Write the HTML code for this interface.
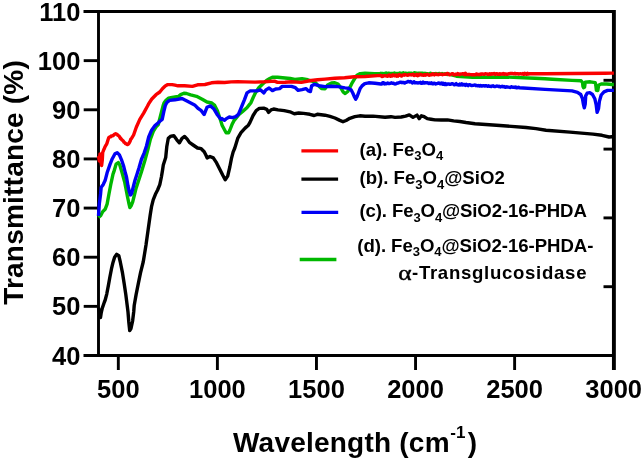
<!DOCTYPE html>
<html><head><meta charset="utf-8"><style>
html,body{margin:0;padding:0;background:#fff;width:644px;height:460px;overflow:hidden;position:relative}
</style></head><body>
<svg width="644" height="460" viewBox="0 0 644 460" style="position:absolute;left:0;top:0;will-change:transform">
<g stroke="#000" stroke-width="2.9" fill="none" stroke-linecap="butt">
<path d="M83.7,11.5 H613.7 M98.5,10.05 V355.5 M83.7,355.5 H613.7"/>
<path d="M613.9,10.05 V370" stroke-width="3.9"/>
<path d="M83.7,11.50 H98.5"/>
<path d="M83.7,60.64 H98.5"/>
<path d="M83.7,109.79 H98.5"/>
<path d="M83.7,158.93 H98.5"/>
<path d="M83.7,208.07 H98.5"/>
<path d="M83.7,257.21 H98.5"/>
<path d="M83.7,306.36 H98.5"/>
<path d="M83.7,355.50 H98.5"/>
<path d="M118.32,355.5 V370"/>
<path d="M217.39,355.5 V370"/>
<path d="M316.47,355.5 V370"/>
<path d="M415.55,355.5 V370"/>
<path d="M514.62,355.5 V370"/>
<path d="M603.5,80.30 H613.7"/>
<path d="M603.5,149.10 H613.7"/>
<path d="M603.5,217.90 H613.7"/>
<path d="M603.5,286.70 H613.7"/>
</g>
<path d="M98.5,217.5 L100.6,215.8 L102.5,211.9 L105.1,209.3 L107.1,204.1 L109.0,193.7 L111.0,183.3 L113.0,174.1 L113.9,171.7 L116.1,164.1 L118.3,162.5 L119.9,165.2 L122.1,172.8 L124.8,182.6 L126.2,190.0 L127.6,197.3 L128.8,203.0 L129.9,207.5 L131.3,205.5 L132.7,201.8 L134.4,195.0 L136.1,188.2 L138.3,181.5 L141.4,172.0 L144.8,160.7 L148.2,148.2 L150.4,139.2 L153.3,131.3 L156.1,126.8 L158.3,124.5 L161.5,112.0 L163.3,105.0 L164.0,103.0 L165.8,100.5 L168.4,98.2 L172.2,97.5 L176.5,96.8 L178.0,96.9 L180.7,94.6 L183.9,93.2 L186.5,93.5 L190.7,94.9 L196.5,96.3 L202.2,99.2 L207.0,102.0 L211.8,103.0 L214.7,105.4 L217.5,111.1 L220.4,119.8 L222.2,125.5 L226.1,132.7 L228.6,132.7 L229.9,130.0 L231.9,124.8 L233.8,120.9 L236.4,117.6 L239.0,114.4 L243.0,111.1 L246.9,107.8 L250.0,103.9 L250.9,102.7 L253.3,97.2 L255.6,92.5 L258.8,87.8 L261.9,84.7 L266.5,80.5 L269.8,78.5 L272.4,77.2 L277.6,77.2 L285.0,78.0 L290.2,78.5 L294.8,79.5 L302.0,78.8 L307.8,79.8 L314.4,81.8 L317.6,85.0 L321.5,88.6 L325.0,88.9 L327.6,85.0 L331.5,83.0 L334.8,82.7 L338.0,84.0 L340.7,87.6 L343.3,92.2 L345.2,93.5 L347.8,91.5 L349.8,87.6 L351.7,83.7 L354.4,79.1 L357.0,75.2 L360.2,73.6 L365.0,73.3 L374.6,73.6 L380.0,73.6 L380.9,73.3 L381.8,73.6 L382.7,73.4 L383.6,73.6 L384.5,73.7 L385.4,73.1 L386.3,73.0 L387.2,73.8 L388.1,73.2 L389.0,73.2 L389.9,73.9 L390.8,73.4 L391.7,73.8 L392.6,73.4 L393.5,73.5 L394.4,73.0 L395.3,73.5 L396.2,73.7 L397.1,73.4 L398.0,73.6 L398.9,73.5 L399.8,72.9 L400.7,73.5 L401.6,73.4 L402.5,73.1 L403.4,72.8 L404.3,73.6 L405.2,73.2 L406.1,73.4 L406.1,73.2 L407.0,73.6 L407.9,73.4 L408.8,73.6 L409.7,73.1 L410.6,73.5 L411.5,73.2 L412.4,73.7 L413.3,73.6 L414.2,72.8 L415.1,72.9 L416.0,73.0 L416.9,73.7 L417.8,73.2 L418.7,73.4 L419.6,73.1 L420.5,73.3 L421.4,73.2 L422.3,73.1 L423.2,73.4 L424.1,73.4 L425.0,73.7 L425.0,73.3 L425.9,73.5 L426.8,73.8 L427.7,73.8 L428.6,73.9 L429.5,73.7 L430.4,73.2 L431.3,73.9 L432.2,74.1 L433.1,74.0 L434.0,73.7 L434.9,73.9 L435.8,73.5 L436.7,74.1 L437.6,73.9 L438.5,73.6 L439.4,73.4 L440.3,74.3 L441.2,74.4 L442.1,73.6 L443.0,74.3 L443.9,74.0 L444.8,73.8 L445.7,73.9 L446.6,74.4 L447.5,74.6 L448.4,73.8 L449.3,74.4 L449.6,74.3 L456.5,76.2 L472.4,77.2 L505.0,77.0 L535.0,78.3 L545.0,78.8 L552.4,79.3 L572.0,80.4 L581.1,80.8 L582.5,82.5 L583.0,86.5 L583.6,87.7 L584.6,87.0 L585.2,82.2 L590.3,81.8 L595.3,82.7 L595.9,86.0 L596.4,90.4 L597.8,90.6 L598.5,86.0 L598.9,85.0 L601.2,84.0 L606.7,84.0 L612.0,84.5 L613.9,84.5" fill="none" stroke="#00b800" stroke-width="3.4" stroke-linejoin="round" stroke-linecap="butt"/>
<path d="M98.5,215.8 L99.3,204.1 L100.6,193.7 L101.2,187.2 L103.2,184.6 L105.1,180.6 L107.1,172.8 L110.1,164.1 L112.3,158.7 L115.0,153.8 L117.2,152.7 L119.4,154.9 L121.5,159.8 L123.7,166.3 L125.3,172.8 L126.5,177.0 L128.0,186.0 L129.3,191.6 L130.4,195.0 L131.3,194.0 L132.1,191.6 L133.5,186.0 L135.0,180.3 L136.9,174.5 L139.1,167.5 L141.4,159.5 L144.2,152.8 L146.5,146.0 L148.7,137.0 L151.6,130.2 L155.0,125.6 L158.3,122.8 L160.6,120.6 L162.2,119.4 L163.8,111.6 L165.3,105.5 L167.0,102.3 L169.6,100.4 L175.0,99.8 L182.0,98.5 L185.0,100.1 L189.8,102.5 L194.6,104.9 L198.4,108.7 L201.3,110.7 L204.1,114.5 L207.0,107.3 L210.4,105.9 L213.7,108.7 L217.5,115.0 L220.9,119.3 L222.0,118.6 L224.5,120.3 L226.0,118.9 L229.3,117.0 L232.5,117.6 L235.8,116.6 L238.4,114.4 L240.4,109.7 L242.3,105.0 L244.5,99.6 L247.0,92.9 L250.2,90.9 L254.1,90.9 L257.2,90.9 L260.3,89.8 L263.9,92.9 L265.9,89.9 L269.1,88.0 L272.4,90.6 L275.7,89.0 L279.6,88.6 L282.2,86.4 L285.0,86.4 L291.5,86.4 L295.4,87.7 L298.0,90.3 L302.0,89.6 L305.9,88.6 L308.5,90.9 L310.4,91.6 L311.7,85.7 L314.4,84.4 L318.9,85.7 L325.0,86.6 L331.5,86.3 L338.0,86.6 L345.0,87.9 L348.4,88.2 L351.2,89.9 L352.9,93.3 L354.6,97.2 L355.7,99.2 L357.1,96.6 L358.6,92.7 L360.3,88.2 L362.0,85.9 L364.8,83.6 L368.7,82.8 L375.0,83.2 L380.9,84.0 L381.8,84.1 L382.7,82.6 L383.6,82.7 L384.5,83.9 L385.0,83.4 L385.9,83.8 L386.8,83.6 L387.7,83.0 L388.6,83.5 L389.5,83.5 L390.4,83.4 L391.3,82.8 L392.2,83.2 L393.1,83.1 L394.0,83.6 L394.9,84.0 L395.8,83.9 L396.7,83.3 L397.4,83.2 L398.3,83.0 L399.2,82.7 L400.1,82.2 L401.0,82.1 L401.9,82.7 L402.8,82.4 L403.7,82.4 L404.6,83.1 L405.5,82.4 L406.4,82.4 L407.3,81.8 L408.2,81.4 L409.1,81.8 L409.6,82.0 L410.5,81.5 L411.4,82.1 L412.3,82.9 L413.2,82.4 L414.1,81.7 L415.0,82.9 L415.9,82.8 L416.8,82.7 L417.7,83.0 L418.6,82.8 L419.5,82.9 L420.4,82.3 L421.3,83.3 L422.2,83.3 L423.1,82.1 L424.0,83.1 L424.9,83.0 L425.0,82.7 L425.9,82.7 L426.8,82.9 L427.7,82.8 L428.6,83.6 L429.5,83.0 L430.4,83.5 L431.3,82.8 L432.2,83.7 L433.1,83.8 L434.0,83.1 L434.9,83.4 L435.8,84.0 L436.7,83.7 L437.6,83.4 L438.5,83.0 L439.4,83.2 L440.3,83.9 L440.9,83.6 L441.8,83.1 L442.7,84.3 L443.6,83.4 L444.5,84.4 L445.4,83.5 L446.3,84.6 L447.2,84.2 L448.1,83.9 L449.0,84.0 L449.9,84.3 L450.8,84.2 L451.7,83.8 L452.6,83.7 L453.5,84.2 L454.4,84.9 L455.3,84.5 L456.2,83.6 L457.1,84.9 L458.0,84.8 L458.9,85.1 L459.8,84.0 L460.0,84.5 L460.9,85.0 L461.8,83.9 L462.7,84.9 L463.6,84.4 L464.5,84.4 L465.4,85.5 L466.3,84.3 L467.2,85.1 L468.1,85.7 L469.0,84.7 L469.9,84.8 L470.9,85.3 L471.8,85.6 L472.4,85.4 L473.3,85.4 L474.2,85.2 L475.1,85.0 L476.0,85.7 L476.9,85.5 L477.8,85.9 L478.7,85.5 L479.6,86.0 L480.5,85.5 L481.4,86.1 L482.3,86.0 L483.2,85.7 L484.1,85.9 L485.0,86.1 L485.9,85.6 L486.8,86.0 L487.7,86.3 L488.6,85.8 L489.5,86.4 L490.4,86.3 L491.3,86.5 L492.2,86.0 L493.1,85.8 L494.0,86.6 L494.9,86.6 L495.8,86.3 L496.7,86.0 L497.6,86.1 L498.5,86.6 L499.4,86.3 L500.3,87.0 L501.2,86.6 L502.1,86.3 L503.0,86.8 L503.9,86.5 L504.8,87.1 L505.0,86.7 L505.9,87.2 L506.8,86.8 L507.7,87.0 L508.6,87.1 L509.5,87.3 L510.4,87.5 L511.3,86.7 L512.2,87.0 L513.1,87.3 L514.0,87.1 L514.9,87.5 L515.8,87.0 L516.7,87.9 L517.6,87.6 L518.5,87.2 L519.4,87.8 L545.0,89.4 L572.0,90.9 L577.5,92.3 L580.7,94.5 L582.5,98.7 L583.4,104.1 L584.3,107.8 L585.2,104.1 L585.7,95.9 L587.1,93.2 L589.8,92.7 L592.5,94.5 L594.8,98.7 L596.2,105.0 L597.1,112.4 L598.5,108.7 L599.4,101.4 L601.2,95.0 L604.0,91.8 L607.6,90.4 L612.0,90.4 L613.9,90.4" fill="none" stroke="#0000f5" stroke-width="3.4" stroke-linejoin="round" stroke-linecap="butt"/>
<path d="M98.5,156.0 L99.3,161.0 L100.0,154.0 L100.8,160.0 L101.6,165.5 L102.3,160.0 L102.7,152.5 L103.9,149.3 L104.2,148.9 L105.1,146.6 L106.0,145.2 L106.9,143.5 L107.8,140.5 L108.7,137.8 L109.0,137.5 L109.9,136.7 L110.8,136.7 L111.2,135.9 L112.1,136.0 L113.0,135.7 L113.4,135.3 L114.3,134.3 L115.2,134.0 L115.6,133.7 L116.5,134.1 L117.4,134.7 L117.7,135.3 L118.6,135.7 L119.5,136.7 L120.4,138.4 L120.5,138.0 L121.4,139.3 L122.3,140.2 L123.2,140.8 L124.1,142.3 L125.0,142.7 L125.3,143.5 L126.2,143.7 L127.1,144.6 L127.5,144.6 L128.4,144.0 L129.2,142.9 L130.1,141.2 L130.8,139.1 L131.7,138.2 L133.6,135.0 L136.3,127.2 L139.8,119.4 L143.8,112.9 L147.4,106.3 L148.6,103.9 L151.8,99.0 L156.0,94.7 L159.8,92.0 L162.4,88.7 L165.2,86.0 L167.8,84.6 L172.2,84.6 L175.0,85.2 L178.0,85.8 L184.6,85.8 L192.4,86.4 L197.6,84.8 L205.0,84.5 L211.5,82.8 L218.0,82.2 L224.6,82.5 L231.1,81.9 L237.6,81.7 L245.0,81.9 L255.0,82.1 L264.6,81.8 L274.4,81.1 L277.6,82.4 L285.0,82.3 L291.5,81.8 L301.3,82.4 L311.1,80.5 L317.6,79.8 L325.0,79.1 L334.8,78.2 L344.6,77.8 L354.4,76.8 L365.0,76.5 L380.9,75.4 L381.8,76.6 L382.7,76.4 L383.6,75.6 L384.5,75.9 L385.0,75.9 L385.9,75.8 L386.8,76.1 L387.7,76.3 L388.6,75.1 L389.5,75.0 L390.4,76.3 L391.3,75.6 L392.2,76.1 L393.1,74.8 L394.0,75.5 L394.9,75.9 L395.8,75.1 L396.7,76.2 L397.0,75.5 L397.9,76.1 L398.8,74.7 L399.7,74.7 L400.6,75.5 L401.5,76.1 L402.4,75.1 L403.3,74.9 L404.2,75.2 L405.1,74.5 L406.0,74.8 L406.9,75.1 L407.8,75.2 L408.7,74.7 L409.6,74.7 L410.5,74.6 L411.4,75.0 L412.3,74.7 L413.2,74.2 L414.1,75.5 L415.0,75.0 L415.9,75.2 L416.8,74.4 L417.7,75.7 L418.6,75.4 L419.5,74.2 L420.0,74.8 L420.9,74.5 L421.8,75.1 L422.7,75.1 L423.6,75.4 L424.5,74.6 L425.4,75.2 L426.3,74.9 L427.2,74.3 L428.1,74.8 L429.0,75.2 L429.9,75.1 L430.8,74.6 L431.7,74.7 L432.6,73.8 L433.5,74.1 L434.4,74.9 L435.3,74.3 L436.2,73.9 L437.1,74.5 L438.0,74.7 L438.9,74.6 L439.8,74.1 L440.7,74.2 L441.6,74.3 L442.5,74.7 L443.4,74.3 L444.3,74.1 L445.2,74.2 L446.0,74.2 L446.9,73.4 L447.8,73.4 L448.7,74.5 L449.6,74.9 L450.5,74.3 L451.4,74.0 L452.3,73.6 L453.2,74.1 L454.1,74.9 L455.0,74.5 L455.9,74.1 L456.8,74.6 L457.7,73.6 L458.6,74.0 L459.5,74.7 L460.0,74.0 L460.9,74.1 L461.8,73.9 L462.7,73.6 L463.6,74.1 L464.5,74.7 L465.4,73.2 L466.3,74.4 L467.2,74.5 L468.1,74.6 L469.0,74.3 L469.9,74.5 L470.9,74.6 L471.8,74.7 L472.7,74.7 L473.6,74.8 L474.5,74.6 L475.4,74.8 L476.3,73.9 L477.2,74.3 L478.1,74.7 L479.0,74.4 L479.9,74.7 L480.8,73.9 L481.7,74.2 L482.6,74.0 L483.5,74.2 L484.4,74.3 L485.3,73.7 L486.2,73.9 L487.1,73.9 L488.0,74.5 L488.9,74.4 L489.8,73.7 L490.7,74.4 L491.6,73.7 L492.5,74.1 L493.4,73.6 L494.3,73.5 L495.2,74.4 L496.1,73.7 L497.0,73.7 L497.9,74.4 L498.8,74.3 L499.7,73.7 L500.6,74.3 L501.5,73.9 L502.4,74.0 L503.3,73.5 L504.2,74.3 L505.0,73.8 L505.9,74.0 L506.8,74.3 L507.7,74.2 L508.6,73.6 L509.5,73.7 L510.4,73.5 L511.3,73.5 L512.2,73.4 L513.1,73.6 L514.0,73.9 L514.9,73.3 L515.8,74.0 L516.7,73.7 L517.6,73.6 L518.5,74.1 L519.4,73.8 L520.3,73.6 L521.2,73.8 L522.1,74.0 L523.0,73.4 L523.9,74.3 L524.8,73.3 L525.7,74.1 L526.6,74.2 L527.5,73.3 L528.4,74.1 L529.3,73.7 L545.0,73.8 L573.0,73.5 L605.0,73.2 L612.0,73.1 L613.9,73.1" fill="none" stroke="#fa0000" stroke-width="3.4" stroke-linejoin="round" stroke-linecap="butt"/>
<path d="M98.5,308.0 L99.5,313.0 L100.5,317.5 L101.2,313.0 L102.3,308.1 L104.4,302.0 L105.2,300.0 L106.8,293.8 L108.4,285.4 L109.9,277.0 L111.5,268.7 L113.0,262.4 L114.6,257.2 L116.7,254.3 L118.8,255.7 L120.3,262.0 L122.5,272.9 L124.2,283.7 L125.8,294.6 L127.2,305.5 L128.0,312.0 L128.8,322.0 L129.7,330.5 L131.0,328.5 L132.6,321.0 L133.7,312.0 L134.2,305.5 L136.1,294.6 L138.3,283.7 L140.5,272.9 L143.2,262.0 L143.7,259.1 L146.0,245.0 L148.1,230.0 L150.2,215.0 L151.6,206.3 L153.2,199.8 L155.4,194.3 L157.6,190.0 L159.8,184.6 L161.4,177.0 L162.5,170.4 L163.3,165.0 L165.7,157.6 L166.8,146.5 L168.3,138.3 L170.9,136.1 L173.9,135.8 L176.8,139.8 L179.4,142.8 L182.0,138.3 L184.6,136.5 L187.2,139.1 L189.4,142.4 L193.1,145.0 L197.5,148.0 L201.2,148.7 L204.2,151.7 L206.0,155.3 L207.1,157.9 L210.0,156.5 L213.3,157.9 L216.6,162.9 L219.9,169.5 L222.8,175.3 L225.2,179.8 L227.7,176.1 L229.8,167.0 L231.4,158.7 L233.1,152.1 L234.8,148.0 L237.7,138.4 L241.0,132.7 L245.1,128.1 L248.4,125.2 L250.0,122.4 L253.1,115.5 L256.2,110.6 L259.3,108.4 L263.7,108.1 L266.8,109.3 L268.6,112.4 L271.1,109.9 L273.6,109.0 L278.0,109.9 L284.2,110.6 L290.0,111.8 L294.3,113.7 L298.7,113.0 L303.6,113.4 L309.8,114.3 L314.2,115.5 L317.3,114.3 L325.0,115.2 L330.0,116.4 L334.9,118.0 L339.3,120.1 L343.0,121.7 L346.1,120.5 L349.8,118.3 L354.8,116.7 L359.8,115.8 L365.0,116.2 L373.0,116.1 L385.0,117.2 L391.0,116.7 L395.0,117.4 L401.2,117.0 L405.6,116.1 L409.3,114.9 L413.0,117.4 L417.0,115.1 L419.2,118.6 L421.4,115.8 L424.2,116.7 L427.3,118.6 L431.0,119.2 L435.0,119.9 L441.2,120.0 L447.4,119.9 L453.6,120.9 L459.8,121.5 L466.0,122.5 L475.0,123.7 L500.0,125.5 L526.0,127.5 L536.0,128.6 L546.0,130.2 L570.0,132.1 L593.0,134.1 L602.0,135.3 L609.0,137.0 L612.0,136.8 L613.9,136.8" fill="none" stroke="#000000" stroke-width="3.4" stroke-linejoin="round" stroke-linecap="butt"/>
<g font-family='"Liberation Sans", sans-serif' font-weight="bold" font-size="25.5" fill="#000">
<text x="80.4" y="20.50" text-anchor="end">110</text>
<text x="80.4" y="69.64" text-anchor="end">100</text>
<text x="80.4" y="118.79" text-anchor="end">90</text>
<text x="80.4" y="167.93" text-anchor="end">80</text>
<text x="80.4" y="217.07" text-anchor="end">70</text>
<text x="80.4" y="266.21" text-anchor="end">60</text>
<text x="80.4" y="315.36" text-anchor="end">50</text>
<text x="80.4" y="364.50" text-anchor="end">40</text>
<text x="118.32" y="398.4" text-anchor="middle">500</text>
<text x="217.39" y="398.4" text-anchor="middle">1000</text>
<text x="316.47" y="398.4" text-anchor="middle">1500</text>
<text x="415.55" y="398.4" text-anchor="middle">2000</text>
<text x="514.62" y="398.4" text-anchor="middle">2500</text>
<text x="613.70" y="398.4" text-anchor="middle">3000</text>
</g>
<g font-family='"Liberation Sans", sans-serif' font-weight="bold" fill="#000"><text x="233" y="451.5" font-size="28" letter-spacing="0.22">Wavelength (cm</text><text x="450.3" y="438.3" font-size="17">-1</text><text x="477" y="451.5" font-size="28" text-anchor="end">)</text></g>
<text transform="translate(23.2,304.8) rotate(-90)" x="0" y="0" font-family='"Liberation Sans", sans-serif' font-weight="bold" font-size="28" fill="#000" textLength="244.6" lengthAdjust="spacing">Transmittance (%)</text>
<path d="M301.4,150.9 h36.7" stroke="#fa0000" stroke-width="3.3"/>
<path d="M301.4,179.1 h36.7" stroke="#000000" stroke-width="3.3"/>
<path d="M301.5,212.3 h36.7" stroke="#0000f5" stroke-width="3.3"/>
<path d="M299.7,259.5 h36.7" stroke="#00b800" stroke-width="3.3"/>
<g font-family='"Liberation Sans", sans-serif' font-weight="bold" font-size="18.6" fill="#000">
<text x="359.5" y="155.6">(a). Fe<tspan font-size="13" dy="4.5">3</tspan><tspan dy="-4.5">O</tspan><tspan font-size="13" dy="4.5">4</tspan></text>
<text x="359.5" y="184.2">(b). Fe<tspan font-size="13" dy="4.5">3</tspan><tspan dy="-4.5">O</tspan><tspan font-size="13" dy="4.5">4</tspan><tspan dy="-4.5">@SiO2</tspan></text>
<text x="359.5" y="217.4" letter-spacing="-0.12">(c). Fe<tspan font-size="13" dy="4.5">3</tspan><tspan dy="-4.5">O</tspan><tspan font-size="13" dy="4.5">4</tspan><tspan dy="-4.5">@SiO2-16-PHDA</tspan></text>
<text x="357.3" y="251.9" letter-spacing="-0.05">(d). Fe<tspan font-size="13" dy="4.5">3</tspan><tspan dy="-4.5">O</tspan><tspan font-size="13" dy="4.5">4</tspan><tspan dy="-4.5">@SiO2-16-PHDA-</tspan></text>
<text transform="translate(398.2,279.5) scale(1.27,1)" font-family="'Liberation Serif', serif" font-weight="normal" font-size="20" stroke="#000" stroke-width="0.45">α</text>
<text x="412" y="279.3" letter-spacing="0.7">-Transglucosidase</text>
</g>
</svg>
</body></html>
